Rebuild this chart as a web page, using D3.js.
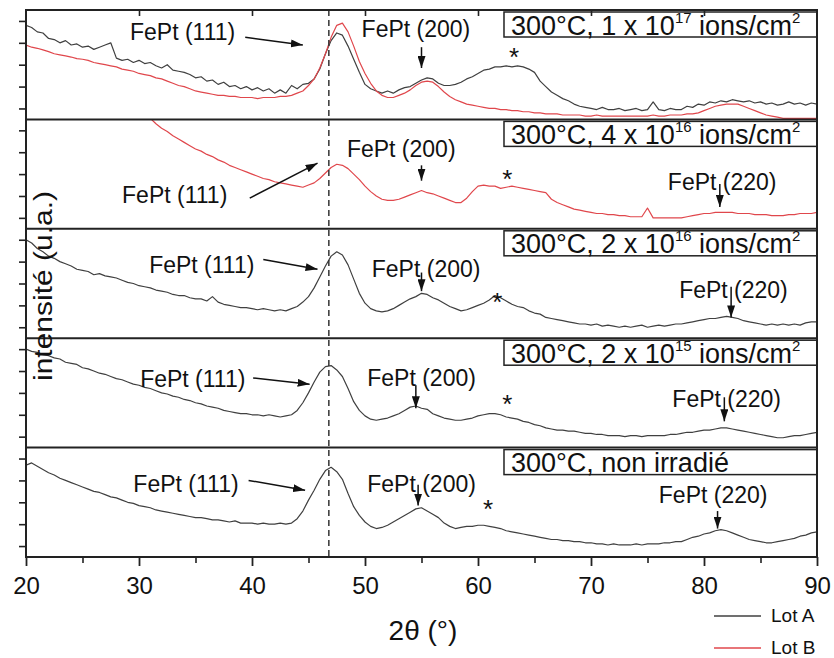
<!DOCTYPE html>
<html><head><meta charset="utf-8">
<script src="https://cdn.jsdelivr.net/npm/d3@7/dist/d3.min.js"></script>
<style>body{margin:0;background:#fff} text{font-family:"Liberation Sans",Arial,sans-serif;fill:#111}</style>
</head><body><svg id="c" width="834" height="658"></svg>
<script>
// ---------- data ----------
const twoTheta = d3.range(20, 90.001, 0.5);   // sampling grid (2θ, degrees)

// Panel 1 : 300°C, 1 x 10^17 ions/cm²
const lotA_1e17 = [
 86,84,80,79,74,73,70,72,68,69,
 66,67,64,66,68,70,56,54,55,52,
 54,51,52,49,47,50,45,44,43,41,
 38,39,35,36,32,34,30,31,28,30,
 27,29,26,28,24,27,24,31,28,32,
 33,37,46,60,72,79,77,67,55,43,
 32,28,26,24,26,24,27,29,30,33,
 36,38,37,33,31,31,32,34,37,39,
 42,45,46,48,48,49,48,49,48,46,
 43,35,30,25,22,19,17,14,12,11,
 10,9,11,9,9,10,8,9,10,8,
 9,16,9,8,10,9,9,12,11,14,
 13,16,15,17,16,18,17,16,17,15,
 16,14,15,13,14,16,14,15,13,15,
 14];
const lotB_1e17 = [
 68,66,65,63.5,62,60,59,58,57,55.5,
 55,54,52,51,50,49,48,46,45,44,
 42,41,40,38,37,35,33,31,30,28,
 26,25,24,23,22,22,21,21,20,20,
 20,19,20,20,20,21,21,22,24,26,
 31,37,47,60,75,86,88,80,67,53,
 42,33,26,22,20,20,22,24,27,31,
 34,35,34,30,25,21,18,16,14,13,
 12,11,10,10,9,9,8,8,7,7,
 6,6,5,5,5,4,4,4,4,3,
 3,4,3,3,3,3,3,3,3,3,
 3,4,3,3,4,4,4,5,5,6,
 8,10,12,13,14,14,14,12,10,8,
 6,4,3,2,1,1,1,1,1,1,
 1];
// Panel 2 : 300°C, 4 x 10^16 ions/cm² (Lot B only)
const lotB_4e16 = [
 null,null,null,null,null,null,null,null,null,null,
 null,null,null,null,null,null,null,null,null,null,
 null,null,101,96,92,89,85,82,79,76,
 73,71,68,66,63,61,58,56,54,52,
 50,48,46,45,43,42,41,40,39,38,
 40,42,46,51,56,59,58,55,50,45,
 39,34,30,27,26,26,27,29,31,33,
 35,33,32,30,28,26,24,24,28,34,
 39,40,39,39,37,38,39,38,37,36,
 35,34,33,27,24,22,20,18,17,16,
 15,14,14,13,13,12,12,11,11,11,
 19,10,10,10,10,10,10,11,12,13,
 14,14,15,15,15,15,14,14,14,13,
 13,13,12,12,12,13,13,14,14,14,
 15];
// Panel 3 : 300°C, 2 x 10^16 ions/cm²
const lotA_2e16 = [
 90,87,82,79,75,73,70,68,66,63,
 62,61,58,59,57,56,55,53,51,50,
 48,47,46,44,43,42,40,39,39,37,
 36,36,34,38,33,31,30,29,28,28,
 27,26,27,26,25,26,25,27,29,33,
 38,46,56,66,75,79,76,67,54,41,
 32,27,25,24,25,27,30,33,36,38,
 41,40,37,35,32,29,27,25,26,28,
 30,32,35,39,37,34,31,29,28,25,
 23,22,19,18,17,16,15,14,13,13,
 12,13,11,12,11,10,11,10,11,12,
 10,11,12,11,12,13,13,14,15,16,
 17,18,18,19,20,19,18,16,15,14,
 13,12,13,12,13,12,13,12,14,15,
 15];
// Panel 4 : 300°C, 2 x 10^15 ions/cm²
const lotA_2e15 = [
 90,88,87,85,84,82,81,78,77,76,
 73,72,70,68,67,65,63,62,60,58,
 57,55,54,52,50,49,47,46,44,43,
 41,40,38,37,36,34,33,32,31,31,
 30,30,29,30,29,28,29,30,34,41,
 50,60,69,74,75,71,65,54,42,34,
 29,26,25,26,27,29,31,34,37,38,
 36,35,31,29,27,26,25,25,26,27,
 29,30,31,31,30,28,27,26,24,23,
 21,20,18,17,16,16,15,15,14,13,
 13,12,12,11,11,11,10,11,11,10,
 11,11,11,11,12,12,13,14,14,15,
 16,16,17,18,18,17,16,15,14,13,
 12,11,10,9,9,10,11,11,12,13,
 14];
// Panel 5 : 300°C, non irradié
const lotA_nonIrr = [
 84,86,83,80,77,75,72,70,68,66,
 64,62,60,59,57,55,54,52,50,49,
 47,46,45,43,42,41,40,39,38,37,
 36,36,35,34,34,33,32,33,31,31,
 31,30,31,30,30,31,30,31,35,42,
 52,61,71,79,82,78,71,58,46,38,
 32,28,26,27,29,32,35,38,41,44,
 45,42,39,36,31,28,26,27,28,28,
 29,29,28,27,26,24,23,22,21,20,
 19,18,17,16,16,15,15,14,14,13,
 13,12,12,11,12,11,11,11,12,11,
 12,12,12,13,13,14,14,16,18,19,
 21,22,24,25,24,22,20,18,16,15,
 14,13,13,14,15,16,17,19,20,22,
 23];

const panelLabels = [
 {main:"300°C, 1 x 10", exp:"17", unit:" ions/cm", unitExp:"2"},
 {main:"300°C, 4 x 10", exp:"16", unit:" ions/cm", unitExp:"2"},
 {main:"300°C, 2 x 10", exp:"16", unit:" ions/cm", unitExp:"2"},
 {main:"300°C, 2 x 10", exp:"15", unit:" ions/cm", unitExp:"2"},
 {main:"300°C, non irradié"}
];
const panelSeries = [
 [{lot:"A", values:lotA_1e17},{lot:"B", values:lotB_1e17}],
 [{lot:"B", values:lotB_4e16}],
 [{lot:"A", values:lotA_2e16}],
 [{lot:"A", values:lotA_2e15}],
 [{lot:"A", values:lotA_nonIrr}]
];
const xTicks = [20,30,40,50,60,70,80,90];
const xMinorTicks = [25,35,45,55,65,75,85];
const refAngle = 46.8;
const lots = ["Lot A","Lot B"];

// peak annotations (2θ, intensity units of their panel)
const peakLabels = [
 {p:0,t:"FePt (111)",tx:29.2,ty:73,a:[39.4,75,44.5,68]},
 {p:0,t:"FePt (200)",tx:49.7,ty:75,a:[55.0,66,55.0,47]},
 {p:1,t:"FePt (111)",tx:28.5,ty:23.6,a:[39.8,28,45.8,60]},
 {p:1,t:"FePt (200)",tx:48.4,ty:66,a:[55.0,58,55.0,44]},
 {p:1,t:"FePt (220)",tx:76.8,ty:35.5,a:[81.4,41,81.4,20]},
 {p:2,t:"FePt (111)",tx:30.9,ty:59.6,a:[41.0,72,45.8,63]},
 {p:2,t:"FePt (200)",tx:50.6,ty:56,a:[55.0,60,55.0,43]},
 {p:2,t:"FePt (220)",tx:77.8,ty:37,a:[82.4,47,82.4,19]},
 {p:3,t:"FePt (111)",tx:30.1,ty:55.7,a:[40.1,63.6,45.1,58]},
 {p:3,t:"FePt (200)",tx:50.2,ty:56.3,a:[54.5,57,54.5,36]},
 {p:3,t:"FePt (220)",tx:77.2,ty:37,a:[81.8,46,81.8,24]},
 {p:4,t:"FePt (111)",tx:29.5,ty:59,a:[39.7,70,44.7,61]},
 {p:4,t:"FePt (200)",tx:50.2,ty:59,a:[54.7,66,54.7,47]},
 {p:4,t:"FePt (220)",tx:76.0,ty:49,a:[81.2,42,81.2,26]}
];
const stars = [{p:0,x:63.2,y:63},{p:1,x:62.6,y:52},{p:2,x:61.7,y:39.5},{p:3,x:62.6,y:46},{p:4,x:60.9,y:50}];

// ---------- layout ----------
const L=26, R=817, T=10, B=557, nP=5, pH=(B-T)/nP;
const color = {A:"#404040", B:"#e0474c"};
const svg = d3.select("#c");
const x = d3.scaleLinear([20,90],[L,R]);
const ys = d3.range(nP).map(i=>d3.scaleLinear([0,100],[T+(i+1)*pH, T+i*pH]));

const defs = svg.append("defs");
defs.append("marker").attr("id","ah").attr("viewBox","0 0 12 8").attr("refX",12).attr("refY",4)
 .attr("markerWidth",12).attr("markerHeight",8).attr("markerUnits","userSpaceOnUse").attr("orient","auto")
 .append("path").attr("d","M0,0L12,4L0,8z").attr("fill","#111");
ys.forEach((y,i)=>defs.append("clipPath").attr("id","cp"+i).append("rect")
  .attr("x",L).attr("y",T+i*pH).attr("width",R-L).attr("height",pH));

// series
panelSeries.forEach((ser,i)=>{
 const y=ys[i];
 const line=d3.line().defined(d=>d!=null).x((d,j)=>x(twoTheta[j])).y(d=>y(d));
 const g=svg.append("g").attr("clip-path",`url(#cp${i})`);
 ser.forEach(s=>g.append("path").attr("d",line(s.values)).attr("fill","none")
   .attr("stroke",color[s.lot]).attr("stroke-width",1.2).attr("stroke-linejoin","round"));
});

// dashed reference line
svg.append("line").attr("x1",x(refAngle)).attr("x2",x(refAngle)).attr("y1",T).attr("y2",B)
 .attr("stroke","#333").attr("stroke-width",1.5).attr("stroke-dasharray","6,4");

// panel label boxes
const boxL = x(62.3);
panelLabels.forEach((lb,i)=>{
 const top=T+i*pH+2;
 svg.append("rect").attr("x",boxL).attr("y",top).attr("width",R-boxL).attr("height",25)
   .attr("fill","#fff").attr("stroke","#222").attr("stroke-width",1.5);
 const t=svg.append("text").attr("x",boxL+7).attr("y",top+22.5).attr("font-size",27);
 t.append("tspan").text(lb.main);
 if(lb.exp){
  t.append("tspan").attr("dy",-12).attr("font-size",15).text(lb.exp);
  t.append("tspan").attr("dy",12).text(lb.unit);
  t.append("tspan").attr("dy",-12).attr("font-size",15).text(lb.unitExp);
 }
});

// frame & separators
svg.append("rect").attr("x",L).attr("y",T).attr("width",R-L).attr("height",B-T)
 .attr("fill","none").attr("stroke","#222").attr("stroke-width",2);
d3.range(1,nP).forEach(i=>svg.append("line").attr("x1",L).attr("x2",R)
 .attr("y1",T+i*pH).attr("y2",T+i*pH).attr("stroke","#222").attr("stroke-width",2));

// left ticks
ys.forEach(y=>{
 const g=svg.append("g").attr("transform",`translate(${L},0)`)
  .call(d3.axisLeft(y).tickValues([10,30,50,70,90]).tickSize(7).tickSizeOuter(0).tickFormat(""));
 g.select(".domain").remove();
 g.selectAll("line").attr("stroke","#222").attr("stroke-width",1.6);
});
// bottom axis
const gb=svg.append("g").attr("transform",`translate(0,${B})`)
 .call(d3.axisBottom(x).tickValues(xTicks).tickSize(9).tickPadding(11).tickSizeOuter(0));
gb.select(".domain").remove();
gb.selectAll("line").attr("stroke","#222").attr("stroke-width",1.8);
gb.selectAll("text").attr("font-size",24).attr("font-family","Liberation Sans, Arial, sans-serif").attr("fill","#111");
const gm=svg.append("g").attr("transform",`translate(0,${B})`)
 .call(d3.axisBottom(x).tickValues(xMinorTicks).tickSize(6).tickFormat("").tickSizeOuter(0));
gm.select(".domain").remove();
gm.selectAll("line").attr("stroke","#222").attr("stroke-width",1.6);
// top inward ticks
const gt=svg.append("g").attr("transform",`translate(0,${T})`)
 .call(d3.axisBottom(x).tickValues(xTicks.slice(1,-1)).tickSize(6).tickFormat("").tickSizeOuter(0));
gt.select(".domain").remove();
gt.selectAll("line").attr("stroke","#222").attr("stroke-width",1.6);

// axis titles
svg.append("text").attr("x",423).attr("y",640).attr("text-anchor","middle").attr("font-size",28).text("2θ (°)");
svg.append("text").attr("transform","translate(52,286) rotate(-90)").attr("text-anchor","middle")
 .attr("font-size",26).attr("textLength",190).attr("lengthAdjust","spacingAndGlyphs").text("intensité (u.a.)");

// peak annotations
peakLabels.forEach(d=>{
 const y=ys[d.p];
 svg.append("text").attr("x",x(d.tx)).attr("y",y(d.ty)).attr("font-size",23).text(d.t);
 svg.append("line").attr("x1",x(d.a[0])).attr("y1",y(d.a[1])).attr("x2",x(d.a[2])).attr("y2",y(d.a[3]))
  .attr("stroke","#111").attr("stroke-width",1.5).attr("marker-end","url(#ah)");
});
stars.forEach(d=>svg.append("text").attr("x",x(d.x)).attr("y",ys[d.p](d.y)).attr("dy","0.6em")
 .attr("text-anchor","middle").attr("font-size",26).text("*"));

// legend
lots.forEach((n,i)=>{
 const yy=616+i*32;
 svg.append("line").attr("x1",714).attr("x2",761).attr("y1",yy).attr("y2",yy)
  .attr("stroke",color[i?"B":"A"]).attr("stroke-width",1.5);
 svg.append("text").attr("x",771).attr("y",yy+6).attr("font-size",19).text(n);
});
</script></body></html>
